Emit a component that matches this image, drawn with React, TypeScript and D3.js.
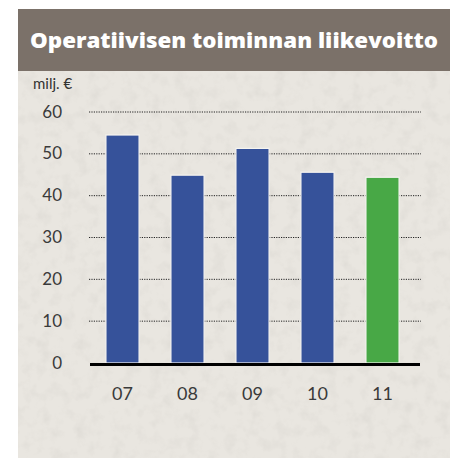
import React from "react";
import * as d3 from "d3";

const categories = ["07", "08", "09", "10", "11"];
const values = [54.5, 44.9, 51.3, 45.6, 44.4];
const barColors = ["#36529a", "#36529a", "#36529a", "#36529a", "#48a846"];
const yTicks = [0, 10, 20, 30, 40, 50, 60];
const title = "Operatiivisen toiminnan liikevoitto";
const unitLabel = "milj. €";

export default function App() {
  const W = 450;
  const H = 459;
  const x = d3
    .scaleBand<string>()
    .domain(categories)
    .range([90, 415])
    .paddingInner(0.49)
    .paddingOuter(0.245);
  const y = d3.scaleLinear().domain([0, 60]).range([363, 112]);
  const labelFont = "Lato, 'Open Sans', sans-serif";

  return (
    <svg
      width={W}
      height={H}
      style={{ position: "absolute", left: 0, top: 0, display: "block" }}
    >
      <defs>
        <filter id="grain" x="0" y="0" width="100%" height="100%">
          <feTurbulence type="fractalNoise" baseFrequency="0.08" numOctaves="3" seed="4" result="n" />
          <feColorMatrix
            type="matrix"
            values="0 0 0 0 0.5  0 0 0 0 0.48  0 0 0 0 0.45  0 0 0 1.2 -0.55"
            result="c"
          />
          <feComposite in="c" in2="SourceGraphic" operator="in" />
        </filter>
      </defs>
      <rect x={0} y={0} width={W} height={H} fill="#ffffff" />
      <rect x={18} y={71} width={W - 18} height={387} fill="#e9e6e0" />
      <rect x={18} y={71} width={W - 18} height={387} fill="#e9e6e0" filter="url(#grain)" opacity={0.35} />
      <rect x={18} y={9} width={W - 18} height={62} fill="#7b7169" />
      <text
        x={30}
        y={48}
        fill="#ffffff"
        fontFamily="'Open Sans', Lato, sans-serif"
        fontWeight={800}
        fontSize={21.5}
        textLength={408}
        lengthAdjust="spacingAndGlyphs"
      >
        {title}
      </text>
      <text x={33} y={89} fill="#333333" fontFamily={labelFont} fontSize={15}>
        {unitLabel}
      </text>
      {yTicks.map((t) => (
        <g key={t}>
          {t > 0 && (
            <line
              x1={89}
              x2={421}
              y1={y(t)}
              y2={y(t)}
              stroke="#222"
              strokeWidth={1}
              strokeDasharray="1.2,1.2"
            />
          )}
          <text
            x={62}
            y={y(t) + 5.5}
            textAnchor="end"
            fill="#3a3a3a"
            fontFamily={labelFont}
            fontSize={17}
          >
            {t}
          </text>
        </g>
      ))}
      {categories.map((c, i) => (
        <rect
          key={c}
          x={x(c)!}
          y={y(values[i])}
          width={x.bandwidth()}
          height={y(0) - y(values[i])}
          fill={barColors[i]}
          stroke="#f6f4f0"
          strokeWidth={1.2}
        />
      ))}
      <line x1={90} x2={420} y1={364.5} y2={364.5} stroke="#000" strokeWidth={3} />
      {categories.map((c) => (
        <text
          key={c}
          x={x(c)! + x.bandwidth() / 2}
          y={400}
          textAnchor="middle"
          fill="#3a3a3a"
          fontFamily={labelFont}
          fontSize={18}
        >
          {c}
        </text>
      ))}
    </svg>
  );
}
